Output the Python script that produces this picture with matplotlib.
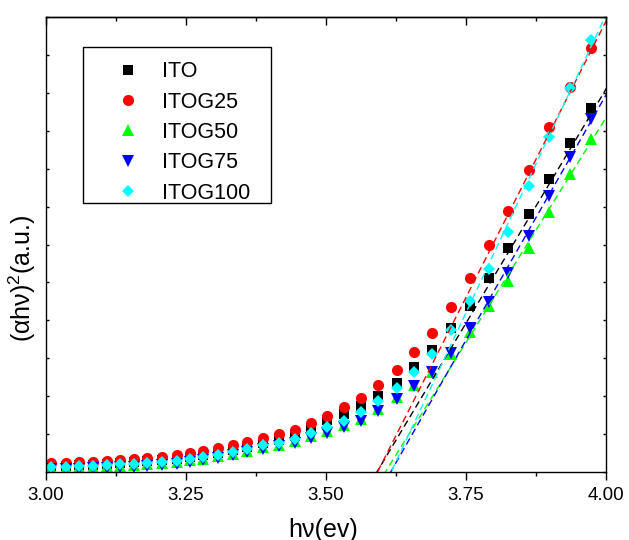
import numpy as np
import matplotlib
matplotlib.use("Agg")
import matplotlib.pyplot as plt
from matplotlib.ticker import MultipleLocator, NullFormatter
from matplotlib.patches import Rectangle

plt.rcParams['font.family'] = ['Liberation Sans', 'DejaVu Sans']
plt.rcParams['mathtext.fontset'] = 'custom'
plt.rcParams['mathtext.rm'] = 'Liberation Sans'

# photon energy (eV), same grid for every sample
energy = [3.009, 3.036, 3.059, 3.084, 3.109, 3.132, 3.157, 3.180, 3.207, 3.234,
          3.257, 3.280, 3.307, 3.334, 3.359, 3.388, 3.416, 3.445, 3.473, 3.502,
          3.532, 3.563, 3.593, 3.627, 3.657, 3.689, 3.723, 3.757, 3.791, 3.825,
          3.863, 3.898, 3.936, 3.973]

# (alpha h nu)^2 in arbitrary units
ito = [0.16, 0.16, 0.18, 0.18, 0.21, 0.24, 0.26, 0.29, 0.32, 0.34,
       0.40, 0.45, 0.50, 0.58, 0.66, 0.76, 0.84, 0.95, 1.13, 1.37,
       1.53, 1.74, 2.00, 2.35, 2.77, 3.22, 3.80, 4.38, 5.12, 5.91,
       6.80, 7.73, 8.68, 9.60]
itog25 = [0.24, 0.24, 0.26, 0.26, 0.29, 0.32, 0.34, 0.37, 0.40, 0.45,
          0.50, 0.55, 0.63, 0.71, 0.79, 0.90, 1.00, 1.11, 1.29, 1.48,
          1.71, 1.95, 2.29, 2.69, 3.17, 3.67, 4.35, 5.12, 5.99, 6.88,
          7.96, 9.10, 10.15, 11.18]
itog50 = [0.11, 0.11, 0.13, 0.13, 0.16, 0.16, 0.18, 0.21, 0.24, 0.26,
          0.32, 0.34, 0.42, 0.47, 0.55, 0.66, 0.71, 0.82, 0.95, 1.08,
          1.24, 1.40, 1.66, 1.98, 2.29, 2.64, 3.11, 3.69, 4.38, 5.04,
          5.91, 6.86, 7.86, 8.78]
itog75 = [0.08, 0.08, 0.08, 0.11, 0.11, 0.13, 0.13, 0.16, 0.18, 0.21,
          0.26, 0.32, 0.37, 0.45, 0.53, 0.61, 0.69, 0.76, 0.90, 1.03,
          1.19, 1.35, 1.61, 1.93, 2.27, 2.64, 3.14, 3.80, 4.48, 5.25,
          6.22, 7.28, 8.31, 9.31]
itog100 = [0.13, 0.13, 0.16, 0.16, 0.18, 0.21, 0.21, 0.24, 0.26, 0.29,
           0.34, 0.40, 0.45, 0.53, 0.61, 0.71, 0.76, 0.87, 1.03, 1.19,
           1.35, 1.58, 1.87, 2.22, 2.64, 3.11, 3.75, 4.51, 5.35, 6.33,
           7.54, 8.83, 10.13, 11.39]

labels = ["ITO", "ITOG25", "ITOG50", "ITOG75", "ITOG100"]
colors = ["#000000", "#ff0000", "#00ff00", "#0000ff", "#00ffff"]
markers = ["s", "o", "^", "v", "D"]
sizes = [7, 8, 8.5, 8.5, 6.5]

# Tauc extrapolation: x-intercept (band gap) and slope of each linear fit
gap = [3.591, 3.592, 3.606, 3.6155, 3.6164]
slope = [24.69, 29.14, 23.72, 25.86, 31.43]

fig = plt.figure(figsize=(6.29, 5.40), dpi=100)
ax = fig.add_axes([0.0731, 0.1259, 0.8903, 0.8426])

series = [ito, itog25, itog50, itog75, itog100]
for y, lab, c, m, s in zip(series, labels, colors, markers, sizes):
    ax.plot(energy, y, linestyle="none", marker=m, color=c, markersize=s,
            markeredgewidth=0, label=lab)

xs = np.array([3.5, 4.05])
for g, k, c in zip(gap, slope, colors):
    ax.plot(xs, k * (xs - g), color=c, linestyle=(0, (5, 3)), linewidth=1.0)

ax.set_xlim(3.0, 4.0)
ax.set_ylim(0, 12)

ax.xaxis.set_major_locator(MultipleLocator(0.25))
ax.xaxis.set_minor_locator(MultipleLocator(0.125))
ax.yaxis.set_major_locator(MultipleLocator(1))
ax.yaxis.set_major_formatter(NullFormatter())

ax.tick_params(axis="x", which="major", direction="out", length=6, width=1,
               labelsize=13.5, pad=5, top=False)
ax.tick_params(axis="x", which="minor", direction="out", length=3, width=1, top=False)
ax.tick_params(axis="y", which="major", direction="in", length=2.5, width=1,
               left=True, right=True)

# top axis: ticks pointing inward, no labels
sec = ax.secondary_xaxis("top")
sec.xaxis.set_major_locator(MultipleLocator(0.25))
sec.xaxis.set_minor_locator(MultipleLocator(0.125))
sec.xaxis.set_major_formatter(NullFormatter())
sec.tick_params(which="major", direction="in", length=6, width=1, labeltop=False)
sec.tick_params(which="minor", direction="in", length=3, width=1)
sec.spines["top"].set_linewidth(1.0)

for sp in ax.spines.values():
    sp.set_linewidth(1.0)

ax.set_xlabel("hν(ev)", fontsize=18)
ax.set_ylabel("(αhν)$^{2}$(a.u.)", fontsize=18)
ax.xaxis.set_label_coords(0.4955, -0.100)
ax.yaxis.set_label_coords(-0.014, 0.426)

# legend without its own frame, box drawn separately
ax.legend(loc="upper left", bbox_to_anchor=(0.118, 0.903), fontsize=15.5,
          frameon=False, borderpad=0, borderaxespad=0, handlelength=1.49,
          handletextpad=0.84, labelspacing=0.435)
ax.add_patch(Rectangle((0.0661, 0.5912), 0.3357, 0.3428, transform=ax.transAxes,
                       fill=False, edgecolor="black", linewidth=1.0, zorder=5))

fig.savefig("out.png", dpi=100)
